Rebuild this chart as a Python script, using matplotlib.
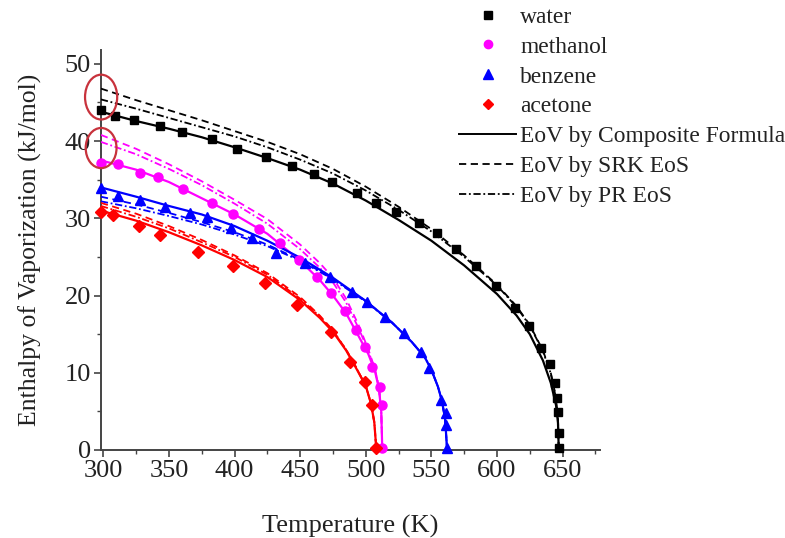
import matplotlib
matplotlib.use("Agg")
import matplotlib.pyplot as plt
from matplotlib.lines import Line2D
from matplotlib.patches import Ellipse
from matplotlib.ticker import MultipleLocator

plt.rcParams['font.family'] = ['Liberation Serif', 'DejaVu Serif']

# ---------------- data ----------------
# experimental points
water_T = [298.15, 309, 323, 343, 360, 383, 402, 424, 444, 460.5, 474, 493, 508, 523, 540.5,
           554, 569, 584, 599, 614, 624.5, 633.5, 640.5, 644.5, 646, 646.8, 647, 647.1]
water_H = [44.0, 43.3, 42.7, 42.0, 41.2, 40.3, 39.0, 38.0, 36.8, 35.8, 34.7, 33.3, 32.0, 30.8, 29.4,
           28.1, 26.0, 23.8, 21.2, 18.4, 16.1, 13.2, 11.1, 8.7, 6.7, 4.9, 2.2, 0.3]

methanol_T = [298.15, 311, 328, 341.5, 360.5, 382.5, 398.5, 419, 435, 449, 462.5, 473.5, 484,
              492.5, 499.5, 505, 510.5, 512, 512.6]
methanol_H = [37.2, 37.0, 35.9, 35.4, 33.8, 32.0, 30.6, 28.6, 26.8, 24.6, 22.4, 20.3, 18.0,
              15.5, 13.3, 10.8, 8.2, 5.8, 0.3]

benzene_T = [298.15, 311, 328, 347, 366, 379, 397, 413, 431.5, 453.5, 472.5, 489.5, 501, 515,
             529, 542, 548, 557, 561.2, 561.5, 562]
benzene_H = [33.9, 32.9, 32.4, 31.5, 30.7, 30.2, 28.8, 27.5, 25.5, 24.2, 22.4, 20.5, 19.2, 17.2,
             15.2, 12.7, 10.6, 6.5, 4.8, 3.2, 0.3]

acetone_T = [298.15, 307, 327.5, 343.5, 372.5, 398.5, 423, 447.5, 473.5, 488, 499.5, 504.5, 508.1]
acetone_H = [30.8, 30.4, 29.0, 27.8, 25.6, 23.8, 21.6, 18.8, 15.3, 11.4, 8.8, 5.8, 0.3]

# model curves (composite formula, SRK EoS, PR EoS)
water_cT = [298.15, 325, 350, 375, 400, 425, 450, 475, 500, 525, 550, 575, 600, 615, 625,
            635, 641, 645, 646.5, 647.1]
water_comp = [43.8, 42.6, 41.6, 40.5, 39.2, 37.8, 36.3, 34.5, 32.3, 29.8, 27.1, 23.9, 20.2, 17.4,
              15.0, 11.6, 8.7, 5.8, 3.5, 0.0]
water_srk = [46.8, 45.3, 44.0, 42.7, 41.3, 39.9, 38.3, 36.4, 34.1, 31.5, 28.6, 25.2, 21.4, 18.6,
             16.2, 12.9, 10.0, 6.8, 4.0, 0.0]
water_pr = [45.4, 44.2, 43.0, 41.8, 40.6, 39.2, 37.6, 35.8, 33.6, 31.1, 28.3, 25.0, 21.3, 18.5,
            16.1, 12.8, 9.9, 6.7, 4.0, 0.0]

methanol_cT = [298.15, 325, 350, 375, 400, 425, 450, 465, 475, 485, 495, 502, 507, 510, 511.8, 512.6]
methanol_comp = [37.5, 36.3, 34.7, 32.6, 30.5, 28.0, 24.5, 22.0, 20.0, 17.7, 14.6, 12.4, 10.2, 8.0, 5.0, 0.0]
methanol_srk = [40.8, 39.0, 37.0, 34.8, 32.4, 29.9, 26.6, 24.2, 22.3, 19.6, 16.0, 13.0, 10.5, 8.2, 5.1, 0.0]
methanol_pr = [39.9, 38.3, 36.4, 34.3, 31.9, 29.3, 26.0, 23.6, 21.7, 19.1, 15.6, 12.8, 10.4, 8.1, 5.1, 0.0]

benzene_cT = [298.15, 325, 350, 375, 400, 425, 450, 475, 500, 520, 535, 545, 550, 555, 558, 560.5, 562]
benzene_comp = [34.0, 32.8, 31.6, 30.5, 29.0, 27.1, 24.9, 22.3, 19.3, 16.5, 14.0, 12.0, 10.4, 8.2, 6.4, 4.0, 0.0]
benzene_srk = [32.8, 31.8, 30.7, 29.5, 28.2, 26.6, 24.6, 22.2, 19.3, 16.5, 14.0, 12.0, 10.4, 8.2, 6.4, 4.0, 0.0]
benzene_pr = [32.2, 31.3, 30.3, 29.2, 27.9, 26.4, 24.5, 22.1, 19.2, 16.5, 14.0, 12.0, 10.4, 8.2, 6.4, 4.0, 0.0]

acetone_cT = [298.15, 325, 350, 375, 400, 425, 450, 465, 475, 485, 492, 500, 504, 506.5, 508.1]
acetone_comp = [31.0, 29.7, 28.2, 26.5, 24.6, 22.4, 19.4, 17.1, 15.3, 12.9, 10.8, 8.3, 6.0, 3.6, 0.0]
acetone_srk = [32.0, 30.6, 29.0, 27.2, 25.2, 22.9, 19.8, 17.4, 15.5, 13.0, 10.9, 8.3, 6.0, 3.6, 0.0]
acetone_pr = [31.6, 30.2, 28.7, 26.9, 25.0, 22.7, 19.6, 17.3, 15.4, 13.0, 10.9, 8.3, 6.0, 3.6, 0.0]

names = ['water', 'methanol', 'benzene', 'acetone']
model_labels = ['EoV by Composite Formula', 'EoV by SRK EoS', 'EoV by PR EoS']
x_ticks = [300, 350, 400, 450, 500, 550, 600, 650]
y_ticks = [0, 10, 20, 30, 40, 50]

# ---------------- style ----------------
colors = {'water': '#000000', 'methanol': '#ff00ff', 'benzene': '#0000ff', 'acetone': '#ff0000'}
markers = {'water': 's', 'methanol': 'o', 'benzene': '^', 'acetone': 'D'}
msizes = {'water': 6, 'methanol': 6.5, 'benzene': 7, 'acetone': 6}
dash_srk = (0, (4, 2.5))
dash_pr = (0, (4, 1.5, 1, 1.5))

points = {'water': (water_T, water_H), 'methanol': (methanol_T, methanol_H),
          'benzene': (benzene_T, benzene_H), 'acetone': (acetone_T, acetone_H)}
curves = {'water': (water_cT, water_comp, water_srk, water_pr),
          'methanol': (methanol_cT, methanol_comp, methanol_srk, methanol_pr),
          'benzene': (benzene_cT, benzene_comp, benzene_srk, benzene_pr),
          'acetone': (acetone_cT, acetone_comp, acetone_srk, acetone_pr)}

fig = plt.figure(figsize=(7.85, 5.38), dpi=100)
ax = fig.add_axes([0.1283, 0.1636, 0.7643 - 0.1283, 0.9071 - 0.1636])

for n in names:
    cT, comp, srk, pr = curves[n]
    c = colors[n]
    ax.plot(cT, comp, color=c, lw=1.6, ls='-', zorder=3)
    ax.plot(cT, srk, color=c, lw=1.3, ls=dash_srk, zorder=3)
    ax.plot(cT, pr, color=c, lw=1.3, ls=dash_pr, zorder=3)

for n in names:
    T, H = points[n]
    ax.plot(T, H, ls='none', marker=markers[n], ms=msizes[n], color=colors[n],
            mec=colors[n], zorder=4, clip_on=False)

ax.set_xlim(298, 678.5)
ax.set_ylim(0, 51.8)
ax.set_xticks(x_ticks)
ax.set_yticks(y_ticks)
ax.xaxis.set_minor_locator(MultipleLocator(25))
ax.yaxis.set_minor_locator(MultipleLocator(5))
for s in ['top', 'right']:
    ax.spines[s].set_visible(False)
for s in ['left', 'bottom']:
    ax.spines[s].set_color('#444444')
    ax.spines[s].set_linewidth(1.4)
ax.tick_params(which='major', direction='out', length=5, width=1.2, color='#444444',
               labelsize=19, labelcolor='#222222', pad=2)
ax.tick_params(which='minor', direction='out', length=3, width=1.0, color='#444444')

ax.set_xlabel('Temperature (K)', fontsize=19, color='#222222', labelpad=24)
ax.set_ylabel('Enthalpy of Vaporization (kJ/mol)', fontsize=18.5, color='#222222', labelpad=16)

# red highlight ellipses
ax.add_patch(Ellipse((298.3, 45.7), 24.5, 5.8, fill=False, ec='#c8323c', lw=1.6,
                     clip_on=False, zorder=5))
ax.add_patch(Ellipse((298.3, 39.1), 23.5, 5.2, fill=False, ec='#c8323c', lw=1.6,
                     clip_on=False, zorder=5))

handles = [Line2D([], [], ls='none', marker=markers[n], color=colors[n], ms=msizes[n] - 0.5)
           for n in names]
handles += [Line2D([], [], color='black', lw=1.4, ls='-'),
            Line2D([], [], color='black', lw=1.3, ls=dash_srk),
            Line2D([], [], color='black', lw=1.3, ls=dash_pr)]
labels = names + model_labels
fig.legend(handles, labels, loc='upper left', bbox_to_anchor=(457 / 785, 1 - 4 / 538),
           frameon=False, fontsize=16.9, handlelength=2.4, handletextpad=0.2,
           labelspacing=0.36, borderaxespad=0, borderpad=0.1, labelcolor='#222222')

fig.savefig('out.png', dpi=100)
